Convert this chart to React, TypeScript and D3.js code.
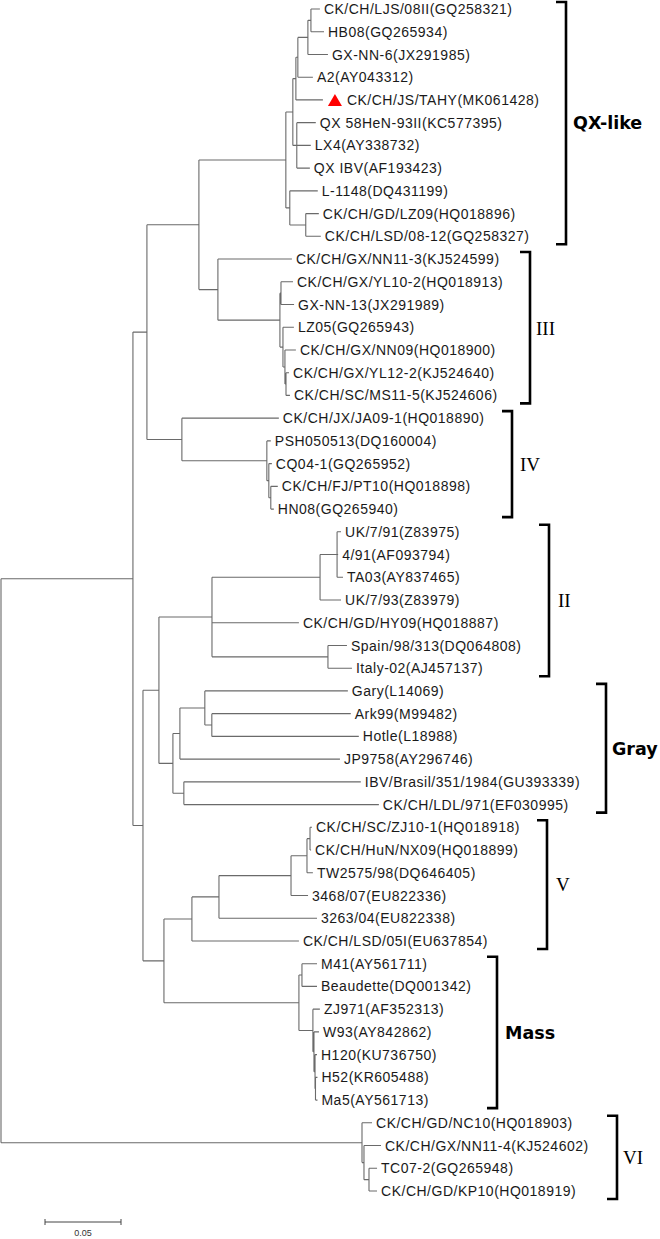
import React from "react";
import * as d3 from "d3";

type Branch = [string, string, number];

// ---- DATA: branches as [node, parent, branch length (substitutions/site)] ----
const backbone: Branch[] = [
  ["root", "", 0],
  ["A", "root", 0.0868],
  ["B", "A", 0.0092],
  ["QX3", "B", 0.0342],
  ["QX", "QX3", 0.0572],
  ["III", "QX3", 0.0125],
  ["IV", "B", 0.023],
  ["C", "A", 0.0066],
  ["D", "C", 0.0105],
  ["II", "D", 0.0349],
  ["Gray", "D", 0.0092],
  ["F", "C", 0.0138],
  ["V", "F", 0.0184],
  ["Mass", "F", 0.0888],
  ["VI", "root", 0.2375],
];

const qxLikeBranches: Branch[] = [
  ["q1", "QX", 0.0046],
  ["q2", "q1", 0.002],
  ["q3", "q2", 0.0013],
  ["q4", "q3", 0.0066],
  ["q5", "q4", 0.002],
  ["CK/CH/LJS/08II(GQ258321)", "q5", 0.0059],
  ["HB08(GQ265934)", "q5", 0.0086],
  ["GX-NN-6(JX291985)", "q4", 0.0132],
  ["A2(AY043312)", "q3", 0.0099],
  ["CK/CH/JS/TAHY(MK061428)", "q2", 0.0178],
  ["q6", "q1", 0.0026],
  ["QX 58HeN-93II(KC577395)", "q6", 0.0125],
  ["LX4(AY338732)", "q6", 0.0092],
  ["QX IBV(AF193423)", "q6", 0.0086],
  ["q7", "QX", 0.0026],
  ["L-1148(DQ431199)", "q7", 0.0184],
  ["q8", "q7", 0.0105],
  ["CK/CH/GD/LZ09(HQ018896)", "q8", 0.0086],
  ["CK/CH/LSD/08-12(GQ258327)", "q8", 0.0099],
];

const group3Branches: Branch[] = [
  ["CK/CH/GX/NN11-3(KJ524599)", "III", 0.0487],
  ["t1", "III", 0.0408],
  ["t2", "t1", 0.0007],
  ["CK/CH/GX/YL10-2(HQ018913)", "t2", 0.0079],
  ["GX-NN-13(JX291989)", "t2", 0.0086],
  ["t3", "t1", 0.002],
  ["LZ05(GQ265943)", "t3", 0.0072],
  ["t4", "t3", 0.0013],
  ["CK/CH/GX/NN09(HQ018900)", "t4", 0.0072],
  ["t5", "t4", 0.0007],
  ["CK/CH/GX/YL12-2(KJ524640)", "t5", 0.002],
  ["CK/CH/SC/MS11-5(KJ524606)", "t5", 0.0026],
];

const group4Branches: Branch[] = [
  ["CK/CH/JX/JA09-1(HQ018890)", "IV", 0.0638],
  ["u1", "IV", 0.0559],
  ["PSH050513(DQ160004)", "u1", 0.0026],
  ["u2", "u1", 0.0013],
  ["CQ04-1(GQ265952)", "u2", 0.002],
  ["u3", "u2", 0.0013],
  ["CK/CH/FJ/PT10(HQ018898)", "u3", 0.0046],
  ["HN08(GQ265940)", "u3", 0.002],
];

const group2Branches: Branch[] = [
  ["ii1", "II", 0.0711],
  ["ii2", "ii1", 0.0112],
  ["UK/7/91(Z83975)", "ii2", 0.0026],
  ["4/91(AF093794)", "ii2", 0.0007],
  ["TA03(AY837465)", "ii2", 0.0039],
  ["UK/7/93(Z83979)", "ii1", 0.0138],
  ["CK/CH/GD/HY09(HQ018887)", "II", 0.0572],
  ["ii3", "II", 0.0763],
  ["Spain/98/313(DQ064808)", "ii3", 0.0125],
  ["Italy-02(AJ457137)", "ii3", 0.0158],
];

const grayBranches: Branch[] = [
  ["g1", "Gray", 0.0046],
  ["g2", "g1", 0.0164],
  ["Gary(L14069)", "g2", 0.0941],
  ["g3", "g2", 0.0046],
  ["Ark99(M99482)", "g3", 0.0914],
  ["Hotle(L18988)", "g3", 0.0967],
  ["JP9758(AY296746)", "g1", 0.1053],
  ["g4", "Gray", 0.0072],
  ["IBV/Brasil/351/1984(GU393339)", "g4", 0.1164],
  ["CK/CH/LDL/971(EF030995)", "g4", 0.1283],
];

const group5Branches: Branch[] = [
  ["v1", "V", 0.0178],
  ["v2", "v1", 0.0474],
  ["v3", "v2", 0.0105],
  ["v4", "v3", 0.002],
  ["CK/CH/SC/ZJ10-1(HQ018918)", "v4", 0.0013],
  ["CK/CH/HuN/NX09(HQ018899)", "v4", 0.0007],
  ["TW2575/98(DQ646405)", "v3", 0.0039],
  ["3468/07(EU822336)", "v2", 0.0112],
  ["3263/04(EU822338)", "v1", 0.0645],
  ["CK/CH/LSD/05I(EU637854)", "V", 0.0704],
];

const massBranches: Branch[] = [
  ["m1", "Mass", 0.002],
  ["M41(AY561711)", "m1", 0.0099],
  ["Beaudette(DQ001342)", "m1", 0.0099],
  ["m2", "Mass", 0.0092],
  ["ZJ971(AF352313)", "m2", 0.0046],
  ["m3", "m2", 0.0007],
  ["W93(AY842862)", "m3", 0.0033],
  ["m4", "m3", 0.0007],
  ["H120(KU736750)", "m4", 0.0013],
  ["m5", "m4", 0.0003],
  ["H52(KR605488)", "m5", 0.0013],
  ["Ma5(AY561713)", "m5", 0.0013],
];

const group6Branches: Branch[] = [
  ["CK/CH/GD/NC10(HQ018903)", "VI", 0.0066],
  ["vi1", "VI", 0.0013],
  ["CK/CH/GX/NN11-4(KJ524602)", "vi1", 0.0112],
  ["vi2", "vi1", 0.0033],
  ["TC07-2(GQ265948)", "vi2", 0.0053],
  ["CK/CH/GD/KP10(HQ018919)", "vi2", 0.0053],
];

const markedLeaves = ["CK/CH/JS/TAHY(MK061428)"];

const cladeNames = ["QX-like", "III", "IV", "II", "Gray", "V", "Mass", "VI"];
const cladeFirstLeaf = [0, 11, 18, 23, 30, 36, 42, 49];
const cladeLastLeaf = [10, 17, 22, 29, 35, 41, 48, 52];
const boldClades = ["QX-like", "Gray", "Mass"];

const scaleBarValue = 0.05;
const scaleBarLabel = "0.05";

// ---- LAYOUT / STYLE ----
const W = 660;
const H = 1239;
const PX_PER_UNIT = 1520;
const X0 = 1;
const Y_FIRST = 9;
const Y_LAST = 1191;
const bracketX = [566, 530, 512, 549, 606, 547, 497, 617];
const labelGap = [7, 6, 8, 9, 6, 9, 8, 6];
const TREE_COLOR = "#6a6a6a";

type N = d3.HierarchyNode<Branch> & { dist?: number; yy?: number };

export default function App() {
  const all: Branch[] = [
    ...backbone,
    ...qxLikeBranches,
    ...group3Branches,
    ...group4Branches,
    ...group2Branches,
    ...grayBranches,
    ...group5Branches,
    ...massBranches,
    ...group6Branches,
  ];
  const root = d3
    .stratify<Branch>()
    .id((d) => d[0])
    .parentId((d) => d[1])(all) as N;

  root.eachBefore((n: N) => {
    n.dist = (n.parent ? (n.parent as N).dist! : 0) + n.data[2];
  });
  const x = d3.scaleLinear().domain([0, 0.3]).range([X0, X0 + 0.3 * PX_PER_UNIT]);
  const leaves = root.leaves() as N[];
  const y = d3.scaleLinear().domain([0, leaves.length - 1]).range([Y_FIRST, Y_LAST]);
  leaves.forEach((l, i) => (l.yy = y(i)));
  root.eachAfter((n: N) => {
    if (n.children) {
      const c = n.children as N[];
      n.yy = (c[0].yy! + c[c.length - 1].yy!) / 2;
    }
  });

  const nodes = root.descendants() as N[];
  const path = d3.path();
  nodes.forEach((n) => {
    if (n.parent) {
      const p = n.parent as N;
      path.moveTo(x(p.dist!), n.yy!);
      path.lineTo(x(n.dist!), n.yy!);
    }
    if (n.children) {
      const c = n.children as N[];
      path.moveTo(x(n.dist!), c[0].yy!);
      path.lineTo(x(n.dist!), c[c.length - 1].yy!);
    }
  });

  const barX0 = 45;
  const barX1 = barX0 + (x(scaleBarValue) - x(0));
  const barY = 1222;

  return (
    <svg
      width={W}
      height={H}
      style={{ position: "absolute", left: 0, top: 0, background: "#fff" }}
    >
      <rect width={W} height={H} fill="#fff" />
      <path d={path.toString()} stroke={TREE_COLOR} strokeWidth={1.1} fill="none" />
      {leaves.map((l) => {
        const marked = markedLeaves.includes(l.data[0]);
        const lx = x(l.dist!);
        return (
          <g key={l.data[0]}>
            {marked && (
              <path
                d={`M${lx + 5},${l.yy! + 6}L${lx + 19},${l.yy! + 6}L${lx + 12},${l.yy! - 6}Z`}
                fill="#ff0000"
              />
            )}
            <text
              x={lx + (marked ? 24 : 4)}
              y={l.yy!}
              dy="0.36em"
              fontFamily="'Liberation Sans', Arial, sans-serif"
              fontSize={14}
              letterSpacing={0.5}
              fill="#1a1a1a"
            >
              {l.data[0]}
            </text>
          </g>
        );
      })}
      {cladeNames.map((name, i) => {
        const top = y(cladeFirstLeaf[i]) - 7;
        const bottom = y(cladeLastLeaf[i]) + 8;
        const bx = bracketX[i];
        const bold = boldClades.includes(name);
        return (
          <g key={name}>
            <path
              d={`M${bx - 10},${top}H${bx}V${bottom}H${bx - 10}`}
              stroke="#000"
              strokeWidth={2.6}
              fill="none"
            />
            <text
              x={bx + labelGap[i]}
              y={(top + bottom) / 2}
              dy="0.36em"
              fontFamily={bold ? "'DejaVu Sans', Verdana, sans-serif" : "'Liberation Serif', 'Times New Roman', serif"}
              fontWeight={bold ? "bold" : "normal"}
              fontSize={bold ? 17.5 : 19}
              fill="#000"
            >
              {name}
            </text>
          </g>
        );
      })}
      <path
        d={`M${barX0},${barY - 3}V${barY + 3}M${barX0},${barY}H${barX1}M${barX1},${barY - 3}V${barY + 3}`}
        stroke="#444"
        strokeWidth={1}
        fill="none"
      />
      <text
        x={(barX0 + barX1) / 2}
        y={barY + 14}
        textAnchor="middle"
        fontFamily="'Liberation Sans', Arial, sans-serif"
        fontSize={9}
        fill="#333"
      >
        {scaleBarLabel}
      </text>
    </svg>
  );
}
